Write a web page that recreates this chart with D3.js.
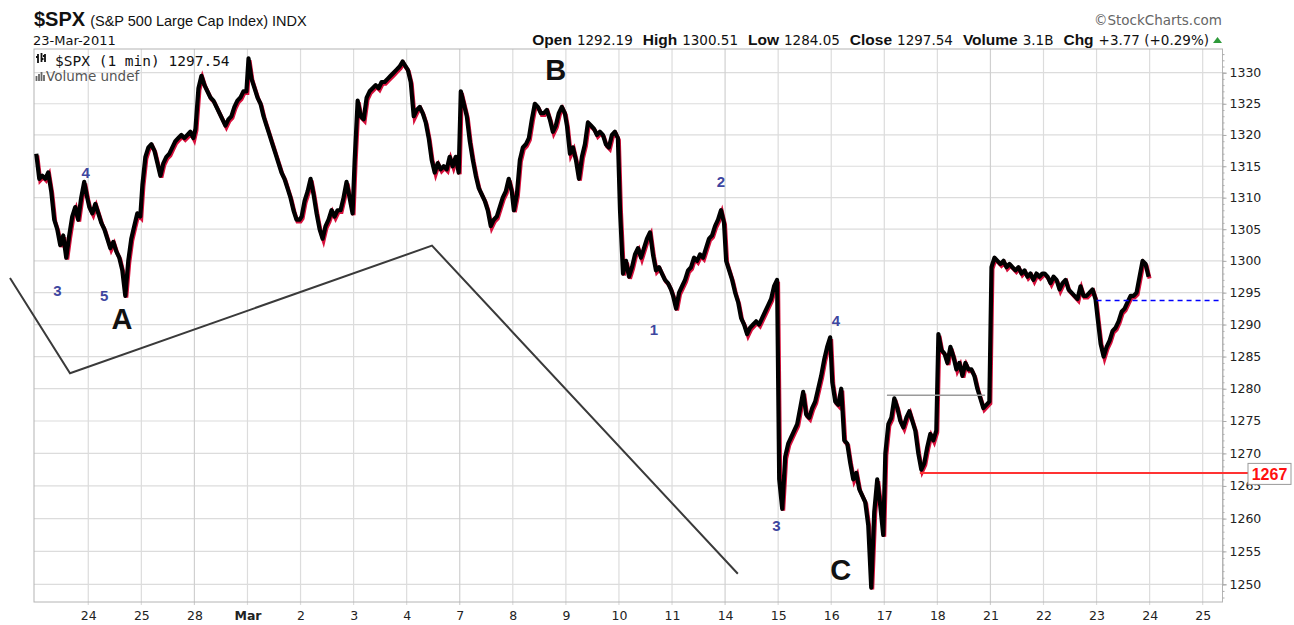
<!DOCTYPE html>
<html>
<head>
  <meta charset="utf-8">
  <title>$SPX 1 min</title>
  <script src="https://d3js.org/d3.v7.min.js"></script>
  <style>
    body { margin: 0; background: #fff; }
    svg { display: block; }
  </style>
</head>
<body>
<svg width="1294" height="625"></svg>
<script>
// x tick labels, one per session start (Feb 24 .. Mar 25)
var dayLabels = ["24","25","28","Mar","2","3","4","7","8","9","10","11","14","15","16","17","18","21","22","23","24","25"];
var weekStarts = [3, 8, 13, 18];
var priceTicks = d3.range(1250, 1331, 5);

var feb23 = [1317, 1313, 1313.5, 1313, 1314, 1311, 1306.5, 1305, 1302.5, 1304, 1300.5, 1304, 1307, 1308.5, 1306.5, 1310, 1312.5, 1310];
var feb24 = [1308.5, 1307.5, 1309, 1307.5, 1306, 1305, 1303.5, 1302, 1303, 1301.5, 1300.5, 1298.5, 1294.5, 1300, 1303.5, 1305.5, 1307.5, 1307];
var feb25 = [1312, 1316.5, 1318, 1318.5, 1317.5, 1315.5, 1313.5, 1315.5, 1316.5, 1317, 1318, 1319, 1319.5, 1320, 1319.5, 1320, 1320.5, 1319.5];
var feb28 = [1321, 1327.5, 1329.5, 1328, 1327, 1326, 1325.5, 1324.5, 1323.5, 1322.5, 1321.5, 1322.5, 1323, 1324.5, 1325.5, 1326, 1327, 1327];
var mar1  = [1332.3, 1329, 1327.5, 1326, 1325, 1323, 1321.5, 1320, 1318.5, 1317, 1315.5, 1314, 1313, 1311.5, 1310, 1308, 1306.5, 1306.5];
var mar2  = [1307, 1309.5, 1311, 1313, 1310.5, 1307.5, 1305, 1303.5, 1305.5, 1306.5, 1308, 1307, 1308, 1308, 1310, 1312.5, 1310, 1307.5];
var mar3  = [1316, 1325.5, 1323, 1322.5, 1326, 1327, 1327.5, 1328, 1327.5, 1328.5, 1328.5, 1329, 1329.5, 1330, 1330.5, 1331, 1331.8, 1331];
var mar4  = [1330.5, 1328.5, 1323, 1324, 1324.5, 1323.5, 1322, 1319.5, 1316, 1314, 1315.5, 1314.5, 1315, 1314.5, 1316.5, 1315, 1316.5, 1314];
var mar7  = [1327, 1325, 1323, 1319, 1316, 1313.5, 1311.5, 1310.5, 1309.5, 1308, 1305.5, 1306.5, 1307, 1308.5, 1310, 1311, 1313, 1311];
var mar8  = [1308, 1310.5, 1316, 1318, 1318.5, 1319.5, 1322.5, 1325, 1324.5, 1323.5, 1323.5, 1324, 1322.5, 1320.5, 1321.5, 1323.5, 1324.5, 1323.5];
var mar9  = [1321.5, 1317, 1318, 1316, 1313, 1316.5, 1318.5, 1322, 1321.5, 1321, 1320, 1320.5, 1320, 1318.5, 1318, 1320, 1320.5, 1319.5];
var mar10 = [1308, 1298, 1300, 1297.5, 1299, 1301, 1302, 1300.5, 1302, 1303.5, 1304.5, 1301, 1298.5, 1299, 1298, 1297, 1296.5, 1295.5];
var mar11 = [1294.5, 1292.5, 1295, 1296, 1297, 1298.5, 1299, 1300.5, 1300, 1301, 1300.5, 1302, 1303.5, 1304, 1305.5, 1306.5, 1308, 1306];
var mar14 = [1300, 1298.5, 1297, 1295, 1293.5, 1291, 1290, 1288.5, 1289.5, 1290, 1290.5, 1290, 1291, 1292, 1293, 1294, 1296, 1297];
var mar15 = [1266, 1261.5, 1269.5, 1271.5, 1272.5, 1273.5, 1274.5, 1277, 1279.5, 1276, 1275.5, 1277, 1278, 1280, 1282, 1284.5, 1286.5, 1288];
var mar16 = [1281, 1278, 1277.5, 1280, 1272, 1271.5, 1268.5, 1266, 1267, 1264.5, 1263.5, 1262.5, 1259, 1249.5, 1261, 1266, 1262, 1257.5];
var mar17 = [1270, 1274.5, 1275.5, 1278.5, 1277, 1275, 1274, 1275.5, 1276.5, 1275, 1273.5, 1270, 1267.5, 1268.5, 1271, 1273, 1272, 1273.5];
var mar18 = [1288.5, 1286, 1285.5, 1284, 1286.5, 1285, 1283, 1284, 1282, 1284, 1283, 1283, 1282, 1280, 1278.5, 1277, 1277.5, 1278];
var mar21 = [1299, 1300.5, 1300, 1299.5, 1300, 1299, 1299.5, 1299, 1298.5, 1299, 1298, 1298.5, 1297.5, 1298, 1297, 1298, 1297.5, 1298];
var mar22 = [1298, 1297.5, 1296.5, 1297.5, 1297, 1295.5, 1296.5, 1297, 1295.5, 1295, 1294.5, 1294, 1296, 1294.5, 1294.5, 1295, 1295.5, 1294];
var mar23 = [1291, 1287, 1285, 1286.5, 1287.5, 1289, 1289.5, 1290.5, 1292, 1292.5, 1293.5, 1294.5, 1294.5, 1295, 1297.5, 1300, 1299.5, 1297.5];
var sessions = [feb23, feb24, feb25, feb28, mar1, mar2, mar3, mar4, mar7, mar8, mar9,
                mar10, mar11, mar14, mar15, mar16, mar17, mar18, mar21, mar22, mar23];

// quote line
var quoteNames  = ["Open", "High", "Low", "Close", "Volume", "Chg"];
var quoteValues = ["1292.19", "1300.51", "1284.05", "1297.54", "3.1B", "+3.77 (+0.29%)"];

// hand drawn annotations (session index, price)
var waveText  = ["3", "4", "5", "A", "B", "1", "2", "3", "4", "C"];
var waveDay   = [0.42, 0.953, 1.30, 1.636, 9.808, 11.66, 12.923, 13.965, 15.09, 15.18];
var wavePrice = [1295.3, 1314.0, 1294.5, 1290.9, 1330.5, 1289.2, 1312.5, 1259.0, 1290.6, 1252.1];
var trendDay   = [-0.475, 0.656, 7.477, 13.24];
var trendPrice = [1297.3, 1282.4, 1302.4, 1251.6];
var prevClose = 1293.77;
var supportLevel = 1267;
var resistLevel = 1279;

var svg = d3.select("svg");
var plot = {left: 34, right: 1222.5, top: 49, bottom: 602};

var x = d3.scaleLinear().domain([0, 22]).range([35.2, 1202.7]);
var y = d3.scaleLog().domain([1250, 1330]).range([584.3, 72.7]);

// grid
svg.append("g").selectAll("line").data(priceTicks).enter().append("line")
  .attr("x1", plot.left).attr("x2", plot.right)
  .attr("y1", function(d){ return y(d); }).attr("y2", function(d){ return y(d); })
  .attr("stroke", "#dcdcdc").attr("stroke-width", 1.2);

svg.append("g").selectAll("line").data(d3.range(1, dayLabels.length + 1)).enter().append("line")
  .attr("x1", function(d){ return x(d); }).attr("x2", function(d){ return x(d); })
  .attr("y1", plot.top).attr("y2", plot.bottom + 3)
  .attr("stroke", function(d){ return weekStarts.indexOf(d) >= 0 ? "#d0d0d0" : "#dcdcdc"; })
  .attr("stroke-width", 1.2);

svg.append("rect")
  .attr("x", plot.left).attr("y", plot.top)
  .attr("width", plot.right - plot.left).attr("height", plot.bottom - plot.top)
  .attr("fill", "none").attr("stroke", "#b4b4b4");

// x labels
var xAxis = d3.axisBottom(x).tickValues(d3.range(1, dayLabels.length + 1))
  .tickSize(0).tickPadding(0)
  .tickFormat(function(d){ return dayLabels[d - 1]; });
var gx = svg.append("g").attr("transform", "translate(0," + (plot.bottom + 18) + ")").call(xAxis);
gx.select(".domain").remove();
gx.selectAll("text")
  .attr("dy", 0)
  .style("font-family", "'DejaVu Sans', sans-serif").style("font-size", "12.5px")
  .attr("fill", "#222")
  .style("font-weight", function(d){ return dayLabels[d - 1] == "Mar" ? "bold" : "normal"; });

// y axis on the right
var gyMinor = svg.append("g").attr("transform", "translate(" + plot.right + ",0)")
  .call(d3.axisRight(y).tickValues(d3.range(1248, 1334)).tickSize(2).tickFormat(""));
gyMinor.select(".domain").remove();
gyMinor.selectAll("line").attr("stroke", "#aaa");

var gy = svg.append("g").attr("transform", "translate(" + plot.right + ",0)")
  .call(d3.axisRight(y).tickValues(priceTicks).tickSize(4).tickPadding(3).tickFormat(d3.format("d")));
gy.select(".domain").attr("stroke", "#b4b4b4");
gy.selectAll("line").attr("stroke", "#aaa");
gy.selectAll("text")
  .style("font-family", "'DejaVu Sans', sans-serif").style("font-size", "12.5px")
  .attr("fill", "#222");

// price trace
var pts = [];
sessions.forEach(function(s, d){
  s.forEach(function(v, j){
    pts.push({t: d + 0.02 + j * 0.96 / (s.length - 1), p: v});
  });
});
var line = d3.line().x(function(d){ return x(d.t); }).y(function(d){ return y(d.p); });

svg.append("path").datum(pts).attr("d", line)
  .attr("fill", "none").attr("stroke", "#d8103c").attr("stroke-width", 4)
  .attr("transform", "translate(1,1.8)");
svg.append("path").datum(pts).attr("d", line)
  .attr("fill", "none").attr("stroke", "#000").attr("stroke-width", 4.2)
  .attr("stroke-linejoin", "round");

// levels
svg.append("line")
  .attr("x1", x(20)).attr("x2", plot.right - 3)
  .attr("y1", y(prevClose)).attr("y2", y(prevClose))
  .attr("stroke", "#0000ff").attr("stroke-width", 1.5).attr("stroke-dasharray", "5,4");

svg.append("line")
  .attr("x1", x(16.05)).attr("x2", x(17.9))
  .attr("y1", y(resistLevel)).attr("y2", y(resistLevel))
  .attr("stroke", "#9a9a9a").attr("stroke-width", 1.5);

svg.append("line")
  .attr("x1", x(16.67)).attr("x2", 1248)
  .attr("y1", y(supportLevel)).attr("y2", y(supportLevel))
  .attr("stroke", "#ff3333").attr("stroke-width", 2);

svg.append("rect")
  .attr("x", 1248).attr("y", y(supportLevel) - 9.5)
  .attr("width", 43).attr("height", 21)
  .attr("fill", "#fff").attr("stroke", "#999");
svg.append("text")
  .attr("x", 1269.5).attr("y", y(supportLevel) + 7)
  .attr("text-anchor", "middle")
  .style("font-family", "'Liberation Sans', Arial, sans-serif")
  .style("font-size", "16px").style("font-weight", "bold")
  .attr("fill", "#ff1010")
  .text(supportLevel);

// trend lines
svg.append("path")
  .datum(d3.range(trendDay.length))
  .attr("d", d3.line().x(function(i){ return x(trendDay[i]); }).y(function(i){ return y(trendPrice[i]); }))
  .attr("fill", "none").attr("stroke", "#3a3a3a").attr("stroke-width", 2);

// wave labels
svg.append("g").selectAll("text").data(waveText).enter().append("text")
  .attr("x", function(d, i){ return x(waveDay[i]); })
  .attr("y", function(d, i){ return y(wavePrice[i]); })
  .attr("text-anchor", "middle").attr("dominant-baseline", "central")
  .style("font-family", "'Liberation Sans', Arial, sans-serif")
  .style("font-weight", "bold")
  .style("font-size", function(d){ return isNaN(+d) ? "29px" : "15px"; })
  .attr("fill", function(d){ return isNaN(+d) ? "#111" : "#3d46a0"; })
  .text(function(d){ return d; });

// header
var title = svg.append("text").attr("x", 34).attr("y", 26)
  .style("font-family", "'Liberation Sans', Arial, sans-serif").attr("fill", "#111");
title.append("tspan").style("font-size", "20px").style("font-weight", "bold").text("$SPX");
title.append("tspan").attr("dx", 5).style("font-size", "14.5px").text("(S&P 500 Large Cap Index) INDX");

svg.append("text").attr("x", 33).attr("y", 45)
  .style("font-family", "'DejaVu Sans', sans-serif").style("font-size", "13px")
  .attr("fill", "#111").text("23-Mar-2011");

svg.append("text").attr("x", 1222).attr("y", 25).attr("text-anchor", "end")
  .style("font-family", "'DejaVu Sans', sans-serif").style("font-size", "13.5px")
  .attr("fill", "#666").text("\u00a9StockCharts.com");

var quote = svg.append("text").attr("x", 1209).attr("y", 45).attr("text-anchor", "end")
  .attr("fill", "#111");
quoteNames.forEach(function(n, i){
  quote.append("tspan").attr("dx", i == 0 ? 0 : 10)
    .style("font-family", "'Liberation Sans', Arial, sans-serif")
    .style("font-size", "15.5px").style("font-weight", "bold").text(n);
  quote.append("tspan").attr("dx", 5)
    .style("font-family", "'DejaVu Sans', sans-serif").style("font-size", "13.5px")
    .text(quoteValues[i]);
});
svg.append("path").attr("d", "M1213,43 L1222,43 L1217.5,37 Z").attr("fill", "#2e9a3a");

// legend inside the plot
var lg = svg.append("g");
lg.append("path").attr("d", "M38,54 v9 M36,57 h2 M41.5,53 v9 M41.5,59 h2 M45,54 v8 M43,56 h2")
  .attr("stroke", "#111").attr("stroke-width", 1.8);
lg.append("text").attr("x", 55).attr("y", 66)
  .style("font-family", "'DejaVu Sans Mono', monospace").style("font-size", "14.5px")
  .attr("fill", "#111").text("$SPX (1 min) " + quoteValues[3]);
lg.append("path").attr("d", "M36.5,81 v-5 M39,81 v-7 M41.5,81 v-9 M44,81 v-6")
  .attr("stroke", "#666").attr("stroke-width", 1.8);
lg.append("text").attr("x", 46).attr("y", 81)
  .style("font-family", "'DejaVu Sans', sans-serif").style("font-size", "13.5px")
  .attr("fill", "#555").text("Volume undef");
</script>
</body>
</html>
